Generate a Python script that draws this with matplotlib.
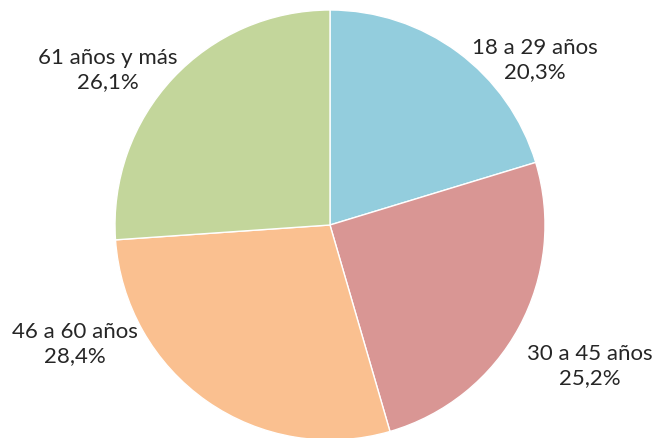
import matplotlib.pyplot as plt

grupos = ['18 a 29 años', '30 a 45 años', '46 a 60 años', '61 años y más']
porcentajes = [20.3, 25.2, 28.4, 26.1]
colores = ['#93CDDD', '#D99694', '#FAC090', '#C3D69B']

# posiciones de las etiquetas (pixeles, origen abajo-izquierda)
pos_etiquetas = [(535, 379), (590, 73), (75, 95), (108, 369)]

fig = plt.figure(figsize=(6.53, 4.39), dpi=100)
ax = fig.add_axes([0, 0, 1, 1])
ax.pie(porcentajes, colors=colores, startangle=90, counterclock=False,
       center=(330, 213), radius=215,
       wedgeprops=dict(edgecolor='white', linewidth=1))
ax.set_xlim(0, 653)
ax.set_ylim(0, 439)
ax.set_aspect('equal')
ax.axis('off')

for g, p, (x, y) in zip(grupos, porcentajes, pos_etiquetas):
    txt = g + '\n' + ('%.1f%%' % p).replace('.', ',')
    ax.text(x, y, txt, ha='center', va='center', fontsize=16,
            family='Lato', color='#262626', linespacing=1.3)

fig.savefig('out.png', dpi=100)
